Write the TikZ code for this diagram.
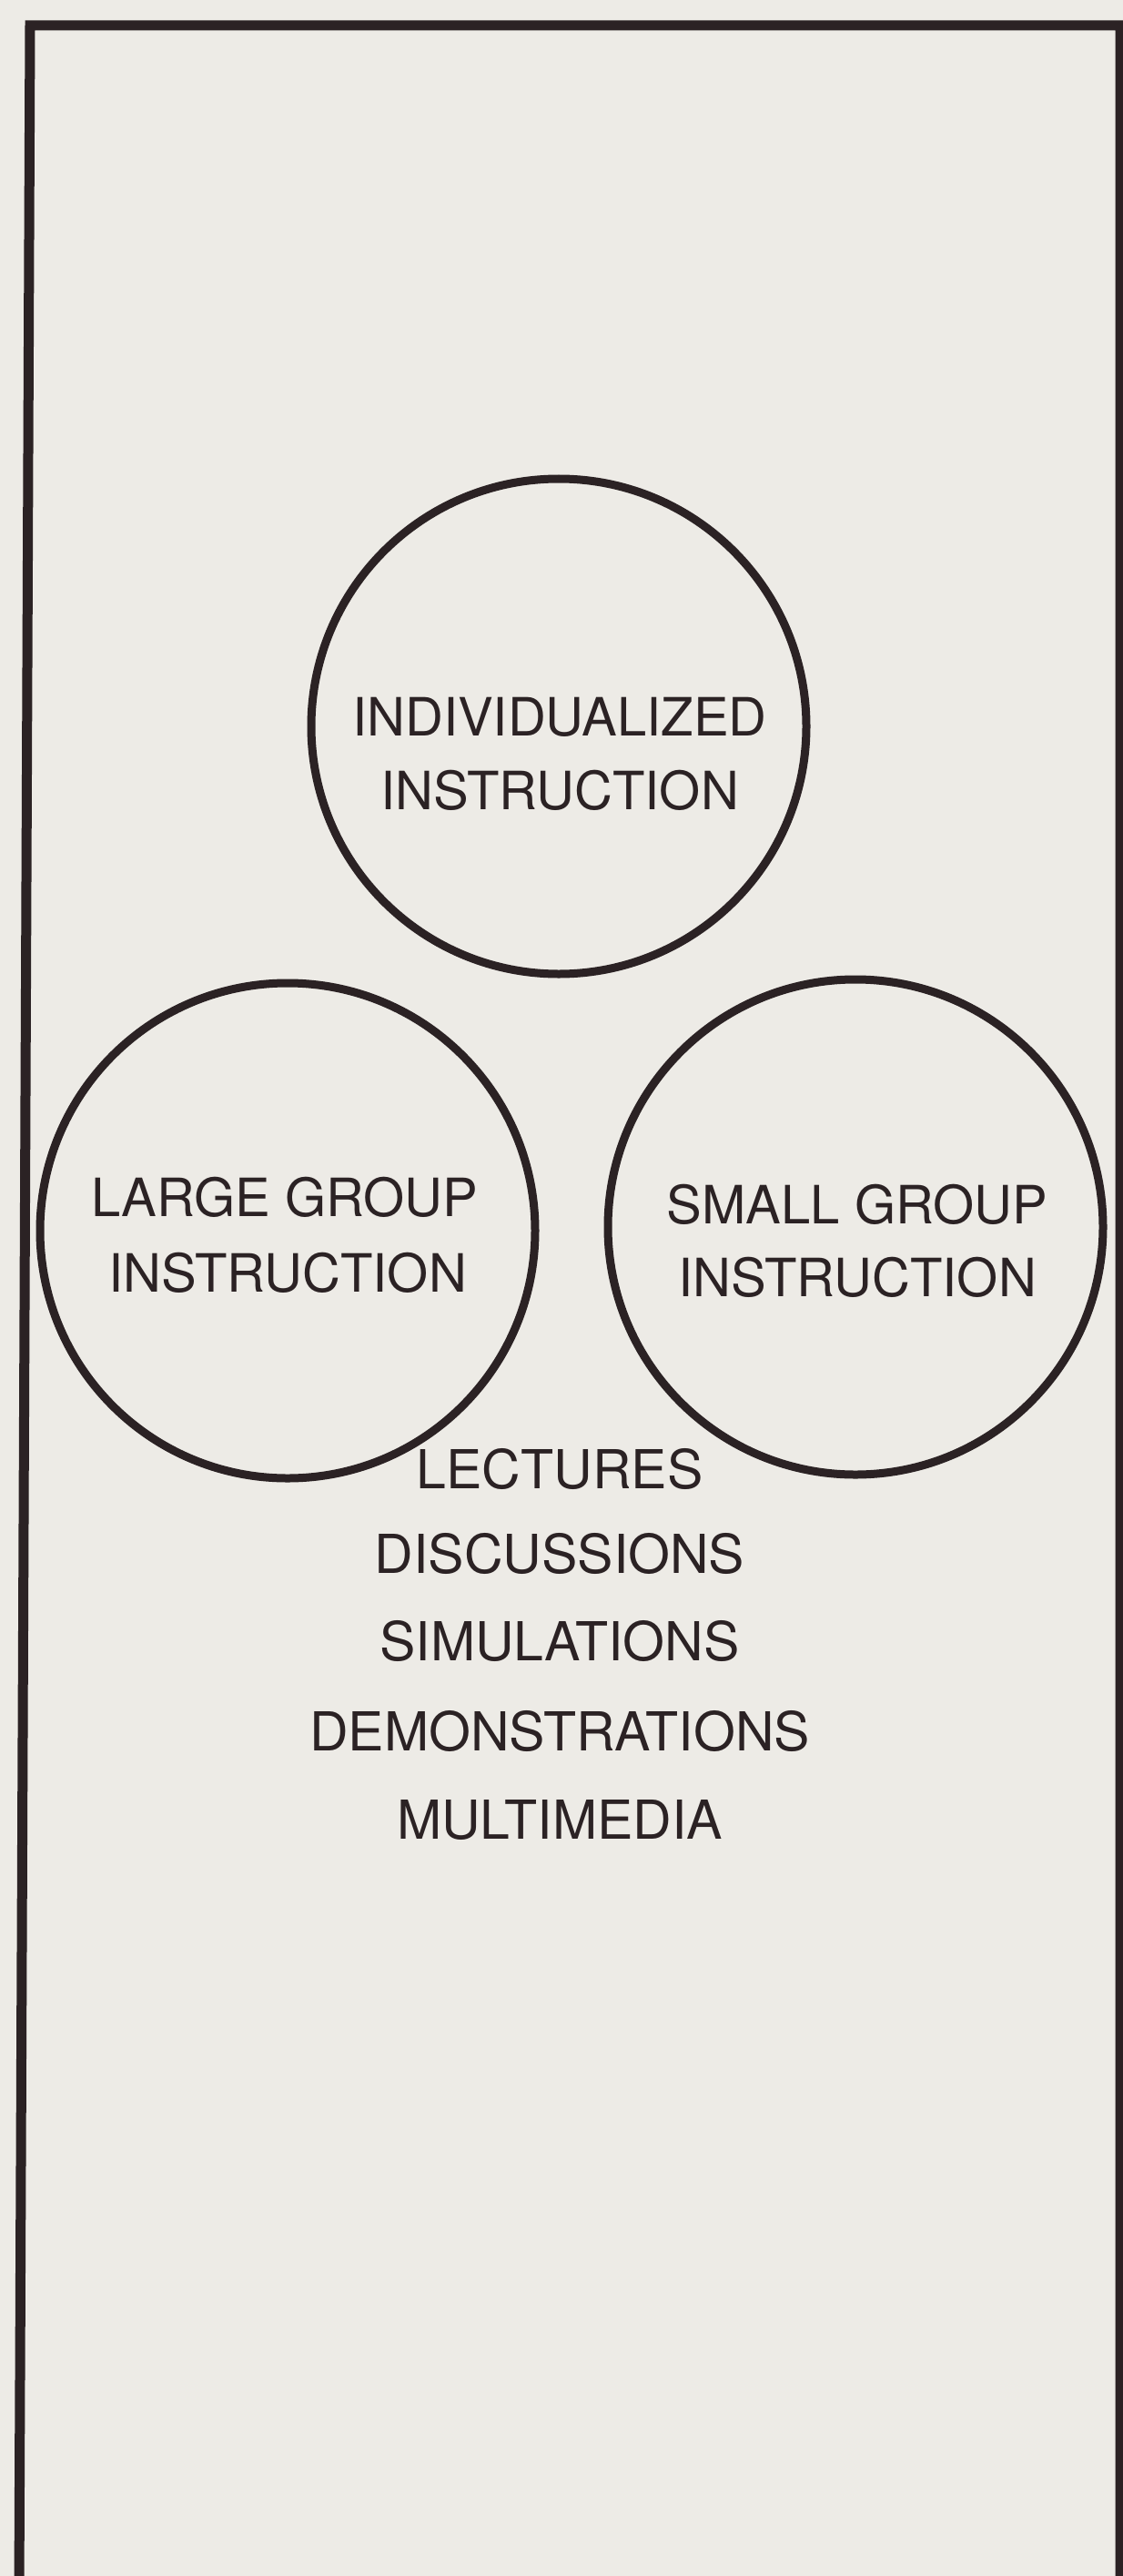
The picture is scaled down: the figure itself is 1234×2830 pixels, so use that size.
\documentclass[tikz,border=0pt]{standalone}
\usepackage{fontspec}
\setmainfont{TeX Gyre Heros}
\definecolor{paper}{HTML}{EDEBE6}
\definecolor{ink}{HTML}{2B2224}
\begin{document}
\begin{tikzpicture}[x=0.5pt,y=-0.5pt,
  ring/.style={circle, draw=ink, line width=4.5pt, minimum size=272pt, inner sep=0pt},
  lbl/.style={anchor=base, text=ink, inner sep=0pt, font=\fontsize{29}{35}\selectfont},
  item/.style={anchor=base, text=ink, inner sep=0pt, font=\fontsize{29.5}{35}\selectfont}]
\fill[paper] (0,0) rectangle (1234,2830);
\useasboundingbox (0,0) rectangle (1234,2830);
\begin{scope}
\clip (0,0) rectangle (1234,2830);
\draw[ink, line width=5.5pt, line join=miter] (21,2850) -- (33,28) -- (1231,28) -- (1231,2850);
\end{scope}
% circles
\node[ring] (indiv) at (614,798) {};
\node[ring] (large) at (316,1352) {};
\node[ring] (small) at (940,1348) {};
% circle labels
\node[lbl] (indiv1) at (615,808) {INDIVIDUALIZED};
\node[lbl] (indiv2) at (615,889) {INSTRUCTION};
\node[lbl] (large1) at (313,1336) {LARGE GROUP};
\node[lbl] (large2) at (316,1419) {INSTRUCTION};
\node[lbl] (small1) at (942,1344) {SMALL GROUP};
\node[lbl] (small2) at (942,1424) {INSTRUCTION};
% list
\node[item] (l1) at (615,1635) {LECTURES};
\node[item] (l2) at (615,1728) {DISCUSSIONS};
\node[item] (l3) at (615,1824) {SIMULATIONS};
\node[item] (l4) at (615,1923) {DEMONSTRATIONS};
\node[item] (l5) at (615,2020) {MULTIMEDIA};
\end{tikzpicture}
\end{document}
